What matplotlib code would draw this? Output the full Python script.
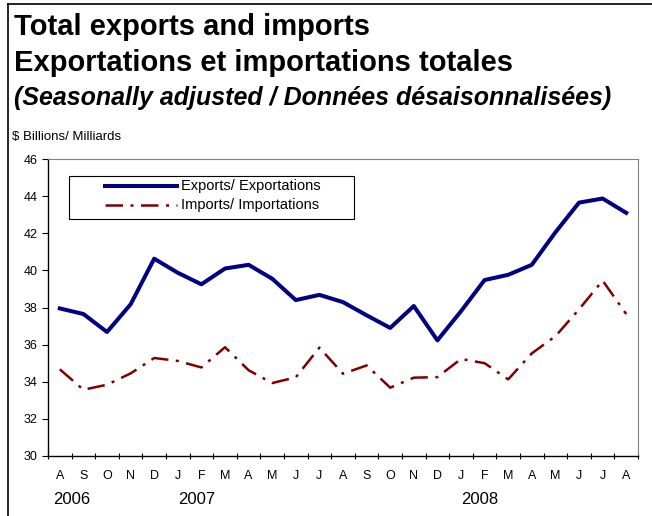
import matplotlib.pyplot as plt
from matplotlib.lines import Line2D
from matplotlib.patches import Rectangle

plt.rcParams['font.family'] = ['Liberation Sans', 'DejaVu Sans']

months = ["A", "S", "O", "N", "D", "J", "F", "M", "A", "M", "J", "J",
          "A", "S", "O", "N", "D", "J", "F", "M", "A", "M", "J", "J", "A"]
years = ["2006", "2007", "2008"]
year_pos = [0.5, 5.8, 17.8]

exports = [37.95, 37.65, 36.68, 38.17, 40.63, 39.87, 39.25, 40.1, 40.3, 39.55,
           38.4, 38.68, 38.29, 37.58, 36.9, 38.08, 36.23, 37.8, 39.48, 39.76,
           40.3, 42.05, 43.65, 43.87, 43.1]
imports = [34.67, 33.57, 33.84, 34.45, 35.28, 35.12, 34.77, 35.86, 34.62, 33.93,
           34.24, 35.84, 34.43, 34.88, 33.68, 34.22, 34.25, 35.23, 35.0, 34.13,
           35.53, 36.45, 37.9, 39.45, 37.65]

exp_color = '#000080'
imp_color = '#800000'
imp_dash = (7, 3, 1.2, 3)

fig = plt.figure(figsize=(6.52, 5.16), dpi=100)
ax = fig.add_axes([48 / 652, 1 - 456 / 516, 590 / 652, 297 / 516])

x = list(range(len(months)))
ax.plot(x, exports, color=exp_color, lw=2.9)
ax.plot(x, imports, color=imp_color, lw=1.8, dashes=imp_dash)

ax.set_xlim(-0.5, len(months) - 0.5)
ax.set_ylim(30, 46)
ax.set_yticks(range(30, 47, 2))
ax.tick_params(axis='y', labelsize=9, length=4, direction='out', width=0.8)
ax.set_xticks([i - 0.5 for i in range(len(months) + 1)])
ax.set_xticklabels([])
ax.tick_params(axis='x', length=5, direction='inout', width=0.8)
for i, m in enumerate(months):
    ax.text(i, -0.068, m, transform=ax.get_xaxis_transform(), ha='center',
            va='center', fontsize=9)
for p, yr in zip(year_pos, years):
    ax.text(p, -0.148, yr, transform=ax.get_xaxis_transform(), ha='center',
            va='center', fontsize=12)

for s in ['top', 'right']:
    ax.spines[s].set_color('#808080')
    ax.spines[s].set_linewidth(0.8)
for s in ['left', 'bottom']:
    ax.spines[s].set_color('black')
    ax.spines[s].set_linewidth(1.0)

# legend drawn by hand to match the boxed Excel legend
ax.add_patch(Rectangle((0.0356, 0.798), 0.483, 0.145, transform=ax.transAxes,
                       facecolor='white', edgecolor='black', lw=0.8, zorder=5))
ax.add_line(Line2D([0.097, 0.219], [0.910, 0.910], color=exp_color, lw=2.9,
                   transform=ax.transAxes, zorder=6))
ax.add_line(Line2D([0.097, 0.219], [0.845, 0.845], color=imp_color, lw=1.8,
                   dashes=imp_dash, transform=ax.transAxes, zorder=6))
ax.text(0.225, 0.910, "Exports/ Exportations", transform=ax.transAxes,
        fontsize=10.5, va='center', zorder=6)
ax.text(0.225, 0.845, "Imports/ Importations", transform=ax.transAxes,
        fontsize=10.5, va='center', zorder=6)

fig.text(14 / 652, 1 - 35 / 516, "Total exports and imports",
         fontsize=21, fontweight='bold', va='baseline')
fig.text(14 / 652, 1 - 71 / 516, "Exportations et importations totales",
         fontsize=21, fontweight='bold', va='baseline')
fig.text(14 / 652, 1 - 105 / 516,
         "(Seasonally adjusted / Données désaisonnalisées)",
         fontsize=18, fontweight='bold', style='italic', va='baseline')
fig.text(12 / 652, 1 - 140 / 516, "$ Billions/ Milliards", fontsize=9.5,
         va='baseline')

fig.add_artist(Line2D([8 / 652, 8 / 652], [0, 1 - 4 / 516], color='black',
                      lw=1.2, transform=fig.transFigure))
fig.add_artist(Line2D([8 / 652, 1], [1 - 4 / 516, 1 - 4 / 516], color='black',
                      lw=1.2, transform=fig.transFigure))

fig.savefig('out.png', dpi=100)
